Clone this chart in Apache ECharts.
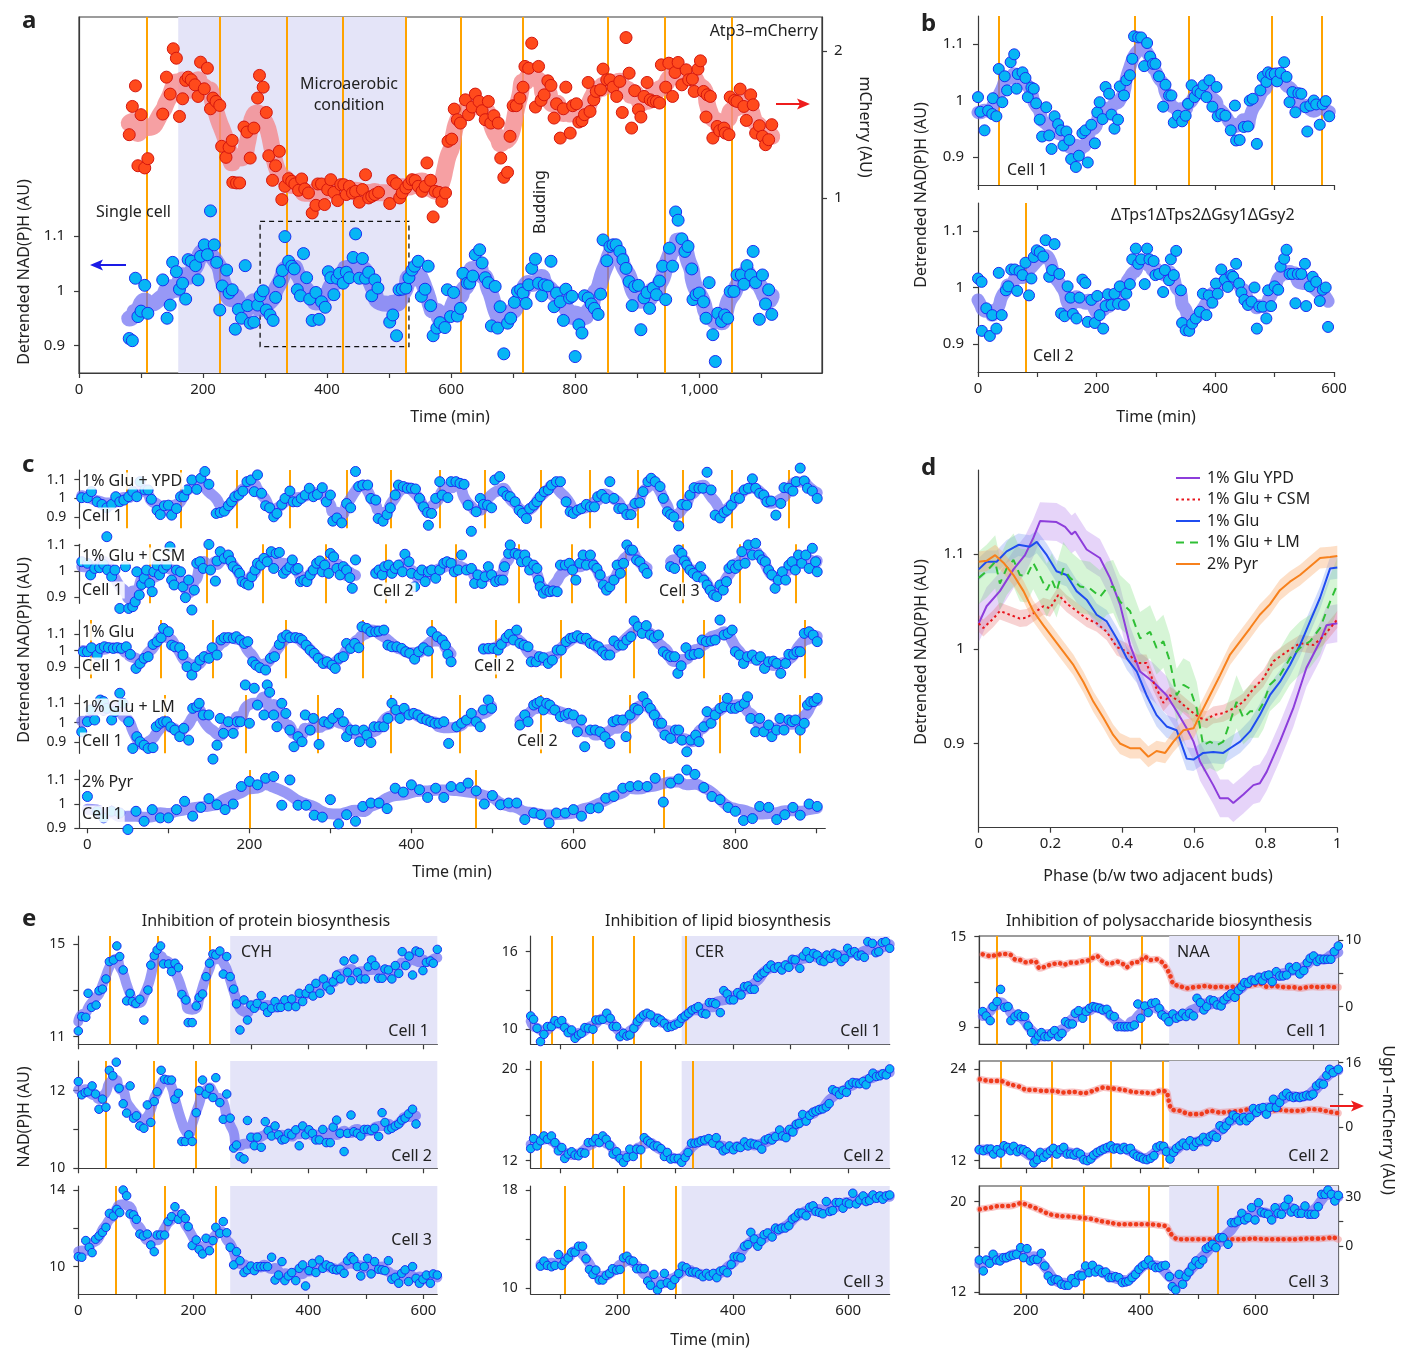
<!DOCTYPE html>
<html>
<head>
<meta charset="utf-8">
<title>NAD(P)H oscillations</title>
<script src="https://cdn.jsdelivr.net/npm/echarts@6.0.0/dist/echarts.min.js"></script>
<style>
  html, body { margin: 0; padding: 0; background: #fff; }
  #main { width: 1411px; height: 1349px; }
</style>
</head>
<body>
<div id="main"></div>
<script>
// ---------- data: [time (min), value] ----------
// panel a
var aBlue = [[81,.913],[86,.909],[91,1.023],[95,.953],[100,.963],[106,1.010],[111,.959],[135,1.020],[142,.950],[147,.974],[151,1.052],[157,1.035],[162,1.003],[167,1.014],[172,.985],[176,1.057],[181,1.054],[188,1.046],[192,1.020],[196,1.063],[202,1.084],[207,1.066],[212,1.146],[218,1.084],[222,1.052],[227,.965],[231,1.009],[238,1.038],[242,.996],[247,1.002],[252,.930],[257,.966],[262,.950],[268,1.046],[272,.973],[276,.941],[282,.943],[288,.974],[292,.991],[297,1.000],[302,.965],[308,.956],[313,.946],[317,.988],[323,1.017],[328,1.037],[332,1.099],[338,1.054],[343,1.045],[347,1.040],[352,1.002],[357,.991],[362,1.068],[367,1.024],[372,.985],[376,.946],[382,.997],[387,.948],[391,.980],[397,.970],[402,1.035],[406,1.024],[411,.993],[416,1.023],[420,1.032],[426,1.014],[431,1.034],[436,1.024],[442,1.061],[446,1.104],[452,1.023],[457,1.059],[462,1.023],[467,1.034],[472,.991],[477,1.020],[482,1.005],[501,.943],[506,.956],[512,.918],[516,1.002],[521,1.003],[527,1.005],[532,1.024],[537,1.038],[541,1.045],[547,1.054],[552,.990],[558,1.003],[563,1.045],[567,.973],[571,.918],[577,.932],[582,.942],[590,.933],[594,1.002],[599,.953],[604,.997],[610,.954],[615,.968],[619,1.032],[626,1.014],[630,1.014],[635,1.027],[639,1.066],[646,1.075],[650,1.051],[655,1.024],[660,1.015],[665,.936],[671,1.008],[675,.932],[679,.971],[685,.885],[691,.941],[696,.950],[702,.979],[707,.999],[712,1.002],[716,.996],[721,.977],[725,1.011],[730,1.041],[736,1.058],[741,1.014],[746,.991],[750,1.011],[756,1.009],[761,1.054],[766,.971],[770,.996],[776,.980],[781,.946],[785,1.003],[791,.987],[795,.990],[800,.880],[806,.938],[811,.923],[815,.991],[821,.987],[826,.976],[831,.968],[837,.957],[841,.994],[845,1.093],[851,1.055],[856,1.081],[861,1.084],[866,1.084],[872,1.072],[877,1.057],[882,1.041],[887,1.017],[892,.973],[896,1.008],[902,1.010],[906,.929],[911,.987],[916,.997],[920,.968],[926,1.005],[931,.993],[936,1.018],[941,1.045],[946,.984],[952,1.078],[957,1.045],[962,1.144],[966,1.129],[972,1.095],[977,1.072],[982,1.081],[988,1.040],[990,.984],[995,.993],[1000,.996],[1007,.980],[1011,.950],[1016,1.015],[1022,.920],[1026,.871],[1030,.959],[1036,.944],[1041,.956],[1046,.950],[1050,.999],[1056,.999],[1061,1.029],[1068,1.029],[1072,1.012],[1077,1.046],[1083,1.029],[1087,1.072],[1091,1.015],[1097,.948],[1102,1.029],[1107,.976],[1112,1.002],[1117,.957]];
var aRed = [[81,1.430],[86,1.622],[91,1.762],[95,1.219],[100,1.566],[106,1.204],[111,1.267],[135,1.570],[141,1.821],[147,1.706],[152,2.014],[157,1.950],[162,1.554],[167,1.674],[172,1.799],[176,1.821],[181,1.803],[187,1.769],[192,1.690],[196,1.923],[202,1.742],[207,1.882],[212,1.606],[216,1.679],[221,1.656],[227,1.629],[230,1.351],[237,1.276],[242,1.344],[247,1.391],[248,1.106],[254,1.102],[259,1.102],[266,1.482],[271,1.448],[276,1.271],[282,1.475],[288,1.679],[291,1.833],[297,1.753],[302,1.581],[306,1.287],[312,1.120],[317,1.219],[323,1.317],[327,.989],[332,1.079],[338,1.131],[343,1.113],[348,1.095],[354,1.052],[359,1.129],[364,1.061],[370,1.034],[376,.898],[382,.950],[385,1.095],[391,1.095],[396,.955],[401,1.057],[406,1.124],[411,1.038],[417,.982],[422,1.090],[427,1.090],[431,1.023],[436,1.079],[441,1.034],[446,1.045],[452,.971],[457,1.057],[462,1.158],[467,1.000],[472,1.011],[477,1.023],[483,1.038],[501,.962],[506,1.118],[512,1.097],[517,1.000],[521,1.034],[527,1.068],[532,1.095],[537,1.124],[542,1.118],[547,1.079],[553,1.045],[558,1.079],[561,1.238],[567,1.120],[571,.871],[574,1.045],[580,1.038],[585,.977],[591,1.034],[595,1.385],[601,1.400],[605,1.604],[610,1.532],[615,1.509],[623,1.667],[628,1.566],[634,1.618],[639,1.706],[645,1.656],[650,1.593],[655,1.532],[660,1.656],[664,1.509],[669,1.559],[676,1.509],[680,1.271],[685,1.140],[691,1.174],[695,1.419],[700,1.627],[705,1.627],[711,1.679],[716,1.753],[719,1.894],[725,1.882],[730,2.052],[736,1.618],[741,1.894],[745,1.663],[750,1.701],[756,1.796],[761,1.765],[766,1.543],[770,1.640],[776,1.407],[781,1.606],[785,1.753],[792,1.441],[796,1.627],[802,1.640],[806,1.516],[811,1.525],[815,1.566],[821,1.785],[824,1.588],[830,1.667],[834,1.724],[841,1.735],[845,1.876],[851,1.803],[856,1.803],[861,1.753],[867,1.690],[872,1.792],[876,1.581],[882,2.090],[887,1.848],[891,1.475],[896,1.729],[902,1.600],[906,1.550],[911,1.690],[916,1.785],[921,1.667],[926,1.656],[931,1.656],[936,1.645],[939,1.905],[946,1.753],[951,1.916],[957,1.690],[961,1.853],[966,1.921],[972,1.769],[979,1.871],[983,1.803],[989,1.808],[992,1.724],[998,1.876],[1002,1.932],[1007,1.724],[1011,1.550],[1013,1.701],[1018,1.690],[1022,1.407],[1029,1.486],[1033,1.457],[1040,1.475],[1042,1.441],[1048,1.430],[1050,1.686],[1057,1.663],[1061,1.656],[1066,1.740],[1072,1.622],[1076,1.527],[1083,1.701],[1087,1.633],[1091,1.441],[1097,1.491],[1102,1.419],[1107,1.362],[1112,1.396],[1117,1.498]];
var aBuds = [110, 227, 335, 426, 527, 616, 716, 852, 945, 1052];
var aShade = [160, 527];
var aBox = [292, 1.127, 532, 0.898];
var aTicksX = [0, 100, 200, 300, 400, 500, 600, 700, 800, 900, 1000, 1100];
var aLabelsX = [0, 200, 400, 600, 800, 1000];
var aTicksY = [0.9, 1, 1.1];
var aTicksM = [1, 2];

// panel b
var bCell1 = [[0,1.006],[4,.980],[11,.947],[17,.982],[24,.976],[25,1.004],[31,.972],[35,1.056],[41,.997],[45,1.043],[49,1.018],[55,1.068],[61,1.082],[65,1.021],[67,1.047],[75,1.050],[80,1.040],[84,1.006],[90,1.023],[94,1.021],[98,.995],[104,.966],[108,.936],[115,.988],[120,.938],[124,.914],[129,.972],[135,.958],[140,.947],[144,.920],[149,.945],[154,.930],[157,.896],[165,.882],[170,.902],[176,.942],[181,.947],[185,.890],[191,.957],[197,.924],[201,.979],[205,.997],[210,.967],[215,1.024],[221,1.012],[225,.975],[230,.950],[236,.966],[239,1.025],[246,1.009],[250,1.036],[256,1.045],[260,1.074],[263,1.114],[270,1.112],[275,1.112],[280,1.061],[285,1.102],[290,1.078],[295,1.065],[299,1.065],[305,1.043],[312,.989],[316,1.028],[322,1.009],[326,1.009],[330,.961],[337,.973],[344,.963],[350,.973],[354,.994],[360,1.027],[365,1.006],[370,1.017],[375,1.013],[380,1.027],[385,1.006],[390,1.036],[395,.989],[402,1.024],[404,.972],[410,.976],[417,.973],[426,.947],[433,.991],[435,.929],[441,.930],[448,.953],[455,.954],[458,1.000],[463,1.003],[470,.923],[476,1.018],[480,1.042],[486,1.033],[489,1.050],[494,1.047],[500,1.047],[504,1.034],[510,1.049],[516,1.068],[520,1.042],[525,.997],[530,1.015],[535,.979],[540,1.013],[545,1.012],[552,.988],[555,.945],[560,.991],[566,1.000],[570,.993],[576,.957],[581,.993],[586,.999],[592,.972]];
var bCell2 = [[0,1.016],[6,1.010],[6.5,.923],[14,.963],[20,.914],[24,.951],[31,.927],[35,1.026],[40,.951],[47,.995],[51,1.002],[56,1.032],[62,1.032],[66,.994],[70,1.029],[75,1.022],[80,1.044],[86,.986],[90,1.016],[94,1.054],[99,1.066],[104,1.063],[110,1.055],[114,1.084],[120,1.019],[125,1.031],[129,1.077],[137,1.024],[140,.954],[146,.949],[151,1.002],[156,.982],[160,.953],[166,.945],[171,.982],[176,1.014],[181,1.008],[185,.939],[191,.978],[197,.937],[201,.985],[205,.951],[211,.927],[215,.967],[219,.988],[225,.969],[230,.989],[236,.971],[239,1.002],[246,.969],[250,.989],[256,1.006],[260,1.050],[266,1.069],[270,1.042],[275,1.050],[281,1.006],[285,1.069],[289,1.050],[296,1.047],[299,1.022],[305,1.024],[312,.992],[315,1.031],[322,1.013],[325,1.050],[330,1.022],[334,1.065],[342,.995],[344,.937],[350,.924],[356,.923],[361,.936],[367,.945],[374,.957],[379,.989],[385,.951],[389,.986],[395,.973],[401,1.007],[404,.989],[410,1.032],[416,1.014],[421,1.001],[427,1.022],[430,1.019],[435,1.042],[440,1.007],[444,.991],[449,.978],[455,.969],[461,.975],[466,1.000],[470,.927],[474,.966],[480,.966],[486,.945],[489,.995],[494,.967],[500,1.002],[506,.996],[510,1.037],[516,1.051],[520,1.067],[525,1.024],[530,1.024],[535,.972],[539,1.024],[545,1.024],[551,1.042],[553,.967],[559,1.002],[564,1.019],[570,1.010],[576,.976],[581,.996],[586,1.000],[590,.930]];
var bBuds1 = [35, 265, 354.5, 495.5, 580];
var bBuds2 = [80];
var bTicksX = [0, 100, 200, 300, 400, 500, 600];
var bLabelsX = [0, 200, 400, 600];
var bTicksY = [0.9, 1, 1.1];

// panel c
var cYPD = [[-7,1.004],[0,1.004],[5,1.036],[12,.982],[18,.968],[24,.950],[30,.968],[35,1.009],[40,.982],[45,.991],[51,1.009],[56,1.036],[61,1.009],[65,1.089],[71,1.045],[75,1.045],[79,.995],[86,.937],[90,.914],[95,.961],[100,.964],[104,.911],[110,.946],[115,1.009],[119,1.009],[123,1.045],[129,1.098],[135,1.048],[140,1.107],[145,1.143],[150,1.075],[159,.920],[164,.925],[169,.932],[174,.961],[178,.982],[182,1.009],[187,1.018],[192,1.039],[197,1.089],[202,1.098],[206,1.036],[210,1.125],[215,1.027],[220,.961],[225,.950],[230,.902],[234,.920],[240,.968],[244,1.000],[250,1.039],[254,.982],[259,.982],[264,1.000],[269,1.018],[274,1.054],[279,1.009],[284,1.021],[290,1.057],[295,.982],[300,1.018],[303,.879],[308,.896],[314,.870],[320,.973],[325,.950],[331,1.143],[335,1.063],[340,1.071],[346,1.071],[350,1.000],[356,.991],[359,.893],[365,.879],[370,.914],[374,.950],[380,1.018],[384,1.071],[390,1.063],[395,1.054],[400,1.054],[405,1.050],[410,1.000],[415,.955],[420,.925],[421,.857],[425,.920],[430,1.000],[435,1.089],[438,1.018],[445,1.004],[449,1.089],[455,1.089],[460,1.080],[465,1.075],[470,.964],[474,.825],[480,.929],[485,1.000],[489,.968],[494,.964],[499,.950],[503,1.098],[509,1.116],[513,1.036],[518,1.014],[522,1.009],[528,.982],[533,.937],[537,.920],[542,.893],[546,.946],[551,.964],[555,.982],[559,1.009],[564,1.036],[569,1.045],[573,1.071],[579,1.089],[584,1.089],[591,.982],[596,.929],[600,.920],[605,.937],[610,.946],[616,.968],[621,.955],[626,.955],[630,1.009],[635,1.021],[640,1.000],[645,1.089],[650,1.000],[656,.946],[661,.946],[666,.914],[671,.914],[676,.973],[682,.977],[686,1.036],[692,1.089],[696,1.107],[701,1.089],[707,1.063],[711,1.000],[716,.929],[720,.914],[724,.902],[730,.854],[734,.968],[740,.964],[744,1.018],[749,1.057],[755,1.054],[760,1.054],[765,1.139],[770,1.045],[775,.911],[781,.896],[786,.925],[790,.937],[795,.964],[800,1.004],[805,1.000],[811,1.045],[816,1.054],[821,1.104],[825,1.054],[830,1.027],[835,1.018],[839,.982],[844,.986],[850,.911],[856,.973],[860,1.057],[866,1.054],[871,1.039],[875,1.089],[880,1.161],[885,1.093],[889,1.054],[895,1.039],[901,1.000]];
var cCSM1 = [[-7,1.036],[0,1.030],[4,.985],[9,1.010],[15,1.013],[20,1.026],[24,1.133],[25,1.004],[30,.978],[34,1.004],[40,.855],[47,1.017],[51,.855],[56,.862],[59,.881],[61,.997],[64,.907],[67,.948],[70,.972],[73,1.004],[77,.952],[80,.920],[82,.997],[86,1.023],[89,.985],[94,1.010],[98,1.023],[102,1.094],[104,.965],[107,.946],[110,1.004],[115,.997],[118,.939],[121,.897],[125,.965],[129,.849],[132,.926],[135,1.030],[139,1.036],[143,1.010],[150,1.103],[152,1.004],[158,.961],[160,1.039],[164,1.075],[169,1.049],[174,1.062],[177,1.039],[180,1.017],[185,1.004],[188,.991],[191,.959],[195,.952],[199,.946],[203,.978],[207,1.004],[210,1.030],[214,1.023],[218,1.049],[222,1.036],[227,1.075],[230,1.010],[233,1.068],[237,1.072],[242,.991],[246,1.004],[250,1.017],[253,1.043],[257,1.004],[260,1.010],[263,.959],[267,.965],[271,.959],[275,.985],[279,1.004],[283,1.030],[287,1.039],[290,.997],[293,1.023],[298,.991],[300,1.068],[304,1.055],[308,1.010],[312,.985],[316,1.017],[320,1.004],[324,.974],[327,.933],[331,1.043]];
var cCSM2 = [[356,.991],[360,1.004],[364,.985],[367,1.017],[372,1.023],[376,.991],[380,1.010],[384,1.023],[389,.997],[392,1.065],[397,1.036],[400,.991],[404,.939],[409,.985],[413,1.004],[417,.959],[421,.997],[425,1.004],[430,.972],[435,1.004],[440,1.030],[444,1.036],[449,1.030],[453,.997],[458,1.004],[462,1.062],[468,1.004],[474,1.010],[478,.952],[482,.985],[487,.952],[491,.978],[495,1.017],[499,.985],[504,.959],[509,.965],[513,.965],[515,1.017],[520,1.068],[522,1.101],[528,1.068],[532,1.062],[536,1.036],[540,1.062],[543,1.036],[546,1.004],[551,1.023],[555,1.010],[557,.965],[559,.939],[563,.914],[567,.926],[571,.920],[575,.923],[580,.920],[584,1.023],[590,1.023],[595,1.030],[599,1.004],[603,.965],[608,1.030],[612,1.062],[616,1.023],[621,1.062],[625,1.023],[629,1.010],[633,.985],[637,.946],[641,.926],[645,.939],[650,.965],[654,1.023],[658,.991],[662,1.030],[666,1.101],[670,1.081],[673,1.081],[678,1.043],[682,1.036],[687,1.010],[691,.991]];
var cCSM3 = [[720,1.017],[725,1.010],[730,1.081],[734,1.068],[737,1.039],[740,1.023],[744,1.004],[748,.991],[753,.978],[757,1.017],[761,.965],[765,.946],[769,.926],[773,.907],[777,.901],[781,.946],[785,.926],[789,.959],[792,1.010],[796,1.023],[800,1.010],[804,1.023],[808,1.075],[812,1.030],[816,1.101],[821,1.062],[825,1.107],[829,1.062],[833,1.043],[837,1.036],[841,1.004],[845,.985],[849,.933],[853,.965],[858,.997],[862,.965],[866,1.023],[870,1.036],[874,1.004],[878,1.062],[882,1.030],[887,1.062],[891,1.010],[895,1.088],[899,1.036],[901,.997]];
var cGlu1 = [[-5,.994],[0,.994],[5,1.018],[12,.974],[16,1.014],[21,1.024],[26,1.018],[32,1.014],[37,1.018],[42,1.014],[48,1.024],[53,.978],[60,.893],[65,.923],[70,.954],[75,.964],[81,1.038],[86,1.055],[91,1.079],[94,1.135],[100,1.115],[104,1.034],[108,1.024],[114,1.018],[118,.974],[123,.903],[129,.853],[134,.903],[139,.943],[144,.964],[150,.954],[154,1.018],[160,.974],[165,1.065],[169,1.079],[174,1.079],[180,1.075],[184,1.085],[189,1.065],[194,1.044],[198,1.055],[204,.933],[208,.913],[213,.897],[220,.883],[226,.954],[231,.964],[237,1.038],[241,1.079],[246,1.095],[250,1.079],[257,1.079],[262,1.075],[265,1.065],[270,1.034],[275,1.004],[280,.984],[285,.954],[291,.923],[296,.933],[302,.913],[306,.893],[311,.954],[316,.964],[320,1.044],[325,1.014],[330,1.044],[335,1.018],[339,1.145],[345,1.135],[350,1.115],[356,1.115],[360,1.119],[366,1.125],[371,1.034],[376,1.024],[382,1.024],[388,1.014],[393,.994],[398,.984],[404,.949],[409,.994],[415,1.018],[421,.998],[425,1.115],[432,1.085],[438,1.065],[442,1.034],[445,.978],[449,.933]];
var cGlu2 = [[489,1.010],[495,1.014],[501,1.014],[507,1.004],[511,1.038],[517,1.079],[521,1.099],[526,1.065],[530,1.125],[534,1.044],[539,1.034],[544,1.024],[548,.933],[554,.933],[558,.964],[563,.958],[569,.923],[574,.943],[580,1.004],[585,1.004],[591,1.055],[596,1.075],[600,1.079],[605,1.091],[610,1.075],[616,1.075],[621,1.044],[626,1.034],[631,1.024],[636,.994],[640,.974],[645,.974],[650,1.059],[656,1.034],[661,1.034],[666,1.065],[671,1.085],[675,1.180],[680,1.145],[685,1.105],[690,1.152],[695,1.095],[700,1.079],[705,1.095],[711,.994],[716,.974],[720,.964],[725,.964],[729,.863],[733,.909],[739,1.018],[744,.974],[749,.978],[755,.984],[759,1.065],[764,1.055],[770,1.059],[775,1.065],[781,1.186],[786,1.095],[791,1.105],[796,1.125],[800,.994],[805,.974],[810,.923],[815,.964],[821,.974],[826,.943],[831,.964],[836,.893],[841,.933],[847,.937],[851,.923],[856,.863],[862,.923],[866,.978],[872,.978],[876,.994],[880,.994],[885,1.105],[891,1.115],[896,1.095],[901,1.055]];
var cLM1 = [[-7,.953],[0,1.005],[4,1.066],[9,1.014],[16,1.117],[20,1.109],[24,1.074],[30,1.014],[34,1.057],[40,1.152],[44,1.100],[51,1.005],[56,.867],[61,.928],[65,.902],[70,.884],[75,.867],[81,.871],[85,.979],[90,.997],[94,1.005],[98,1.005],[103,.979],[108,.962],[114,.928],[119,.971],[125,.910],[130,1.074],[135,1.083],[138,1.100],[143,1.040],[150,1.040],[155,.812],[160,.884],[164,1.022],[168,.945],[174,1.005],[180,.945],[185,1.005],[189,1.005],[195,1.195],[200,.997],[206,1.178],[210,1.091],[218,1.040],[222,1.195],[225,1.157],[230,1.040],[234,.979],[240,1.100],[245,1.048],[250,.962],[255,.876],[260,.928],[265,.902],[269,1.040],[275,.962],[279,1.022],[286,.888],[292,1.005],[298,.997],[303,1.022],[310,1.048],[316,1.005],[320,.928],[325,.962],[331,.962],[336,.902],[341,.962],[345,.936],[350,.898],[354,.979],[360,.979],[366,.979],[371,1.022],[376,1.100],[381,1.066],[386,1.022],[391,1.074],[397,1.040],[403,1.048],[408,1.040],[413,1.022],[419,1.014],[424,1.005],[429,.997],[434,.997],[440,1.005],[446,.893],[456,.979],[462,.997],[468,1.014],[474,1.048],[480,1.005],[485,.979],[489,1.066],[495,1.117],[499,1.074]];
var cLM2 = [[534,.988],[540,1.040],[544,1.005],[551,1.091],[555,1.100],[559,1.109],[563,1.066],[567,1.100],[571,1.091],[577,1.066],[584,1.031],[590,1.040],[594,1.048],[600,1.040],[605,.953],[610,1.014],[614,.876],[621,.962],[627,.962],[633,.953],[639,.928],[645,.893],[649,1.005],[654,1.014],[661,1.014],[665,.928],[670,1.040],[676,1.074],[680,1.066],[686,1.134],[691,1.100],[695,1.074],[700,1.040],[705,.997],[709,.997],[713,.936],[720,.919],[726,.962],[730,.962],[734,.910],[740,.850],[745,.910],[751,.936],[755,.902],[761,.979],[765,1.057],[770,.997],[775,1.040],[781,1.074],[786,1.083],[790,1.126],[795,1.074],[800,1.074],[805,1.083],[811,1.100],[815,1.134],[819,1.022],[825,.953],[830,1.022],[835,.953],[841,.988],[845,.928],[851,.962],[855,1.022],[860,.962],[866,1.014],[870,1.005],[874,1.014],[880,.962],[885,.997],[889,1.091],[893,1.109],[897,1.109],[901,1.126]];
var cPyr = [[0,1.031],[12,.970],[20,.943],[30,.970],[40,.963],[50,.895],[60,.970],[70,.929],[80,.977],[90,.943],[100,.943],[110,.977],[120,1.011],[130,.950],[140,.986],[150,1.022],[160,.997],[170,.977],[180,1.000],[190,1.072],[200,1.093],[210,1.079],[220,1.106],[230,1.113],[240,.995],[250,1.099],[260,.995],[270,.995],[280,.954],[290,.946],[300,1.018],[310,.918],[320,.956],[331,.929],[340,.990],[350,1.004],[360,1.004],[370,.981],[380,1.065],[390,1.049],[400,1.079],[410,1.059],[420,1.027],[430,1.065],[440,1.027],[449,1.072],[461,1.068],[470,1.086],[480,1.054],[490,1.000],[500,1.035],[510,.997],[520,1.004],[530,1.004],[540,.936],[551,.963],[560,.956],[570,.922],[579,.963],[590,.963],[600,.977],[610,.950],[621,.981],[631,.984],[640,1.024],[650,1.031],[661,1.065],[670,1.072],[680,1.075],[691,1.072],[701,1.106],[711,1.008],[720,1.086],[730,1.103],[740,1.140],[750,1.122],[761,1.068],[771,1.031],[781,1.018],[791,.986],[800,.970],[810,.932],[821,.940],[830,.990],[841,.986],[851,.936],[861,.956],[871,.986],[880,.954],[891,1.000],[901,.990]];
var cBudsYPD = [49, 115, 185, 250, 320, 375, 435, 490, 560, 620, 680, 735, 796, 866];
var cBudsCSM = [77, 147, 217, 294, 368, 455, 532, 598, 665, 735, 805, 875];
var cBudsGlu = [4, 90, 155, 245, 340, 425, 504, 585, 675, 761, 886];
var cBudsLM = [95, 195, 285, 375, 460, 560, 670, 781, 880];
var cBudsPyr = [200, 480, 711];
var cTicksX = [0, 100, 200, 300, 400, 500, 600, 700, 800, 900];
var cLabelsX = [0, 200, 400, 600, 800];
var cTicksY = [0.9, 1, 1.1];

// panel d: [phase, mean]
var dYPD = [[0,1.027],[0.022,1.045],[0.059,1.061],[0.097,1.084],[0.129,1.099],[0.152,1.117],[0.171,1.135],[0.217,1.134],[0.241,1.129],[0.259,1.121],[0.269,1.124],[0.301,1.105],[0.338,1.096],[0.366,1.075],[0.394,1.047],[0.422,1.004],[0.450,.976],[0.487,.965],[0.524,.951],[0.552,.934],[0.580,.916],[0.599,.902],[0.617,.881],[0.654,.856],[0.673,.842],[0.696,.842],[0.710,.837],[0.738,.846],[0.766,.856],[0.784,.858],[0.803,.870],[0.840,.902],[0.877,.937],[0.914,.980],[0.952,1.008],[0.970,1.025],[1,1.027]];
var dCSM = [[0,1.027],[0.013,1.022],[0.041,1.032],[0.059,1.040],[0.087,1.036],[0.115,1.032],[0.134,1.033],[0.162,1.040],[0.180,1.045],[0.199,1.043],[0.222,1.057],[0.245,1.048],[0.273,1.040],[0.301,1.032],[0.329,1.027],[0.357,1.018],[0.385,1.002],[0.413,.997],[0.441,.985],[0.468,.985],[0.487,.965],[0.515,.943],[0.533,.951],[0.561,.944],[0.589,.935],[0.617,.927],[0.636,.925],[0.654,.930],[0.682,.932],[0.710,.937],[0.738,.944],[0.766,.958],[0.794,.969],[0.822,.987],[0.859,.997],[0.896,1.006],[0.933,1.004],[0.961,1.013],[1,1.031]];
var dGlu = [[0,1.084],[0.022,1.092],[0.050,1.092],[0.078,1.103],[0.111,1.110],[0.143,1.108],[0.162,1.113],[0.190,1.099],[0.217,1.082],[0.245,1.078],[0.273,1.061],[0.301,1.052],[0.329,1.036],[0.357,1.029],[0.385,1.011],[0.413,.990],[0.441,.976],[0.468,.951],[0.496,.930],[0.524,.918],[0.552,.914],[0.580,.884],[0.599,.883],[0.626,.890],[0.654,.891],[0.682,.890],[0.701,.895],[0.729,.902],[0.757,.913],[0.784,.930],[0.812,.951],[0.840,.965],[0.868,.983],[0.896,1.004],[0.924,1.029],[0.952,1.054],[0.980,1.085],[1,1.086]];
var dLM = [[0,1.075],[0.022,1.082],[0.046,1.092],[0.059,1.069],[0.078,1.085],[0.097,1.094],[0.115,1.078],[0.134,1.077],[0.152,1.091],[0.171,1.077],[0.190,1.062],[0.204,1.073],[0.217,1.061],[0.236,1.085],[0.255,1.075],[0.283,1.066],[0.310,1.064],[0.338,1.055],[0.357,1.064],[0.375,1.066],[0.394,1.050],[0.422,1.040],[0.450,1.011],[0.478,1.018],[0.496,1.001],[0.515,1.008],[0.533,.987],[0.552,.951],[0.571,.962],[0.589,.958],[0.608,.937],[0.626,.898],[0.645,.902],[0.664,.898],[0.682,.902],[0.701,.923],[0.719,.944],[0.738,.927],[0.757,.934],[0.780,.934],[0.794,.943],[0.812,.962],[0.840,.972],[0.868,.990],[0.896,1.001],[0.924,1.008],[0.952,1.022],[0.980,1.050],[1,1.068]];
var dPyr = [[0,1.092],[0.022,1.093],[0.046,1.099],[0.069,1.091],[0.097,1.078],[0.125,1.061],[0.152,1.040],[0.180,1.025],[0.208,1.011],[0.236,.997],[0.264,.983],[0.292,.965],[0.320,.944],[0.348,.927],[0.375,.909],[0.394,.900],[0.422,.895],[0.450,.895],[0.473,.886],[0.496,.892],[0.520,.890],[0.543,.902],[0.571,.914],[0.599,.916],[0.617,.930],[0.645,.951],[0.673,.972],[0.701,.994],[0.729,1.008],[0.757,1.022],[0.784,1.036],[0.812,1.047],[0.840,1.062],[0.868,1.071],[0.896,1.078],[0.924,1.087],[0.952,1.096],[0.980,1.097],[1,1.098]];
var dNames = ['1% Glu YPD', '1% Glu + CSM', '1% Glu', '1% Glu + LM', '2% Pyr'];
var dSpread = [0.02, 0.009, 0.012, 0.028, 0.011];   // half-width of shaded error band
var dTicksX = [0, 0.2, 0.4, 0.6, 0.8, 1];
var dTicksY = [0.9, 1, 1.1];

// panel e: NAD(P)H per cell
var eProt1 = [[0,11.25],[6,11.87],[13,11.84],[17,12.88],[23,12.27],[31,12.37],[36,12.99],[42,13.06],[48,13.50],[54,14.25],[61,14.32],[67,14.93],[72,14.47],[78,13.89],[84,12.55],[90,12.88],[94,12.52],[100,12.44],[107,12.62],[114,11.72],[121,13.02],[126,14.10],[132,14.51],[137,14.75],[143,14.93],[148,14.15],[157,14.15],[162,13.82],[168,14.18],[174,13.99],[180,12.83],[187,12.59],[191,11.61],[198,11.61],[205,12.33],[210,12.70],[216,12.85],[222,13.60],[228,14.18],[234,14.58],[239,14.54],[246,14.71],[252,13.71],[258,14.47],[264,13.60],[270,13.06],[275,12.42],[281,11.29],[288,12.59],[294,11.72],[300,12.37],[306,12.23],[311,12.44],[318,12.78],[323,12.30],[329,12.05],[336,12.23],[342,12.52],[347,12.26],[352,12.27],[359,12.59],[365,12.30],[371,12.63],[378,12.30],[384,12.88],[390,12.52],[396,12.88],[402,13.09],[408,12.76],[413,13.31],[420,12.88],[426,13.50],[432,13.19],[438,13.02],[443,13.38],[449,13.67],[456,13.50],[462,14.28],[468,13.79],[474,13.43],[479,14.36],[485,13.79],[491,13.50],[499,13.50],[504,14.03],[510,14.32],[516,14.08],[522,13.53],[528,13.53],[533,13.93],[539,13.89],[545,13.50],[551,14.08],[557,13.74],[563,14.68],[569,14.08],[575,14.49],[581,13.67],[587,14.71],[593,14.65],[599,13.86],[605,14.22],[612,14.28],[617,14.18],[624,14.78]];
var eProt2 = [[0,12.23],[6,11.89],[12,11.95],[17,11.97],[24,12.12],[30,11.91],[36,11.52],[42,11.78],[48,11.57],[54,12.52],[60,12.38],[66,12.73],[71,12.06],[78,11.66],[84,11.42],[90,12.12],[96,11.29],[101,11.35],[107,11.09],[114,11.03],[120,11.63],[126,11.18],[132,11.72],[137,11.97],[144,12.52],[150,12.29],[156,12.27],[162,12.27],[168,11.78],[174,11.93],[180,10.69],[186,10.69],[192,10.86],[198,10.69],[205,11.43],[210,12.00],[216,12.27],[222,11.91],[228,12.06],[234,11.82],[239,12.33],[246,11.69],[252,11.26],[258,11.91],[264,11.29],[270,10.52],[275,10.60],[281,10.30],[288,10.24],[294,11.23],[300,10.80],[306,10.58],[311,10.80],[318,10.54],[325,11.20],[330,10.97],[336,10.83],[342,11.09],[348,10.86],[354,10.73],[359,10.75],[365,10.90],[371,10.86],[378,10.99],[384,10.58],[390,11.09],[395,10.86],[401,10.99],[407,10.90],[413,10.73],[419,10.73],[425,11.00],[431,10.66],[438,10.66],[443,11.06],[449,11.24],[455,10.90],[462,10.43],[468,10.90],[474,11.37],[479,10.94],[485,10.90],[491,10.83],[497,11.00],[503,11.00],[509,10.97],[515,11.03],[522,10.82],[528,11.43],[533,11.18],[539,10.99],[545,11.03],[551,11.09],[557,11.14],[562,11.24],[568,11.29],[574,11.40],[581,11.52],[587,11.14]];
var eProt3 = [[0,10.52],[6,10.49],[13,11.36],[19,11.01],[24,10.73],[30,11.43],[36,11.60],[42,11.79],[48,12.05],[54,12.78],[61,12.64],[67,12.99],[72,12.82],[78,14.00],[84,13.70],[90,12.75],[96,12.70],[101,12.47],[107,11.70],[113,11.60],[120,11.70],[126,11.13],[132,10.78],[137,11.65],[143,11.65],[150,11.65],[156,12.35],[162,12.61],[168,13.13],[174,12.47],[180,12.75],[186,12.52],[191,12.09],[198,11.10],[205,11.39],[210,10.90],[216,10.66],[222,11.48],[228,10.83],[234,11.36],[239,12.05],[246,11.74],[252,12.35],[258,11.77],[264,11.01],[270,10.09],[275,10.78],[281,10.31],[288,9.69],[294,9.83],[300,10.03],[306,9.79],[311,10.00],[317,10.00],[323,10.00],[329,10.00],[336,10.49],[342,9.30],[348,9.56],[354,10.26],[359,9.27],[365,9.51],[371,9.69],[378,9.27],[384,9.91],[390,10.09],[395,8.99],[401,9.79],[407,10.17],[413,9.69],[419,10.35],[425,9.91],[431,10.09],[438,10.00],[443,9.86],[449,9.83],[455,9.86],[462,9.65],[468,10.31],[474,10.52],[479,10.35],[485,10.00],[491,9.51],[497,10.00],[503,10.43],[509,9.62],[515,10.26],[522,9.86],[528,9.83],[533,9.79],[539,10.31],[545,9.34],[551,9.44],[557,9.13],[562,9.65],[568,9.83],[574,9.22],[581,10.00],[587,9.39],[593,9.13],[599,9.34],[605,9.56],[612,9.13],[617,9.62],[624,9.56]];
var eLip1 = [[49,11.03],[54,10.77],[60,10.08],[66,9.05],[72,9.61],[78,10.21],[85,10.21],[91,10.67],[97,10.46],[103,10.67],[108,10.13],[114,9.74],[120,9.95],[126,9.30],[132,9.56],[137,9.69],[143,10.13],[149,10.08],[157,10.00],[162,10.72],[168,10.72],[174,10.77],[181,11.24],[187,10.85],[192,10.21],[198,10.21],[204,9.43],[210,9.69],[216,9.48],[221,9.56],[228,10.08],[234,10.59],[239,10.85],[245,11.11],[251,11.24],[257,11.11],[264,10.51],[270,10.85],[275,10.72],[281,10.46],[287,10.15],[293,10.21],[299,10.33],[306,10.46],[311,10.85],[317,11.03],[323,11.24],[329,11.49],[335,11.62],[340,11.75],[347,11.24],[353,11.18],[359,12.06],[365,12.06],[370,11.96],[378,11.29],[384,12.99],[390,12.73],[395,12.27],[401,12.27],[408,12.83],[414,12.65],[420,13.30],[426,13.35],[431,13.09],[437,13.09],[443,14.02],[449,14.27],[454,14.38],[460,14.71],[466,14.97],[472,14.71],[479,14.84],[485,14.58],[491,14.97],[497,14.79],[503,15.41],[508,15.36],[516,14.71],[522,15.67],[528,16.00],[533,15.48],[540,15.87],[546,15.74],[552,15.30],[558,15.23],[563,15.74],[569,15.48],[575,15.87],[581,15.74],[588,15.23],[594,15.48],[599,16.26],[605,15.92],[611,16.00],[617,15.67],[623,15.74],[628,15.56],[634,16.77],[642,16.64],[648,15.92],[653,16.00],[659,16.70],[665,16.77],[672,16.26]];
var eLip2 = [[49,13.06],[54,13.93],[60,13.29],[66,13.73],[72,14.16],[78,13.87],[85,14.16],[91,13.58],[97,12.86],[103,13.15],[108,12.20],[114,12.58],[120,12.78],[126,12.49],[132,12.43],[137,12.72],[143,12.66],[149,13.58],[157,13.64],[162,13.93],[168,13.58],[174,14.16],[180,13.87],[186,13.35],[192,12.58],[198,12.78],[204,12.20],[210,11.86],[216,12.29],[221,13.01],[227,12.37],[233,13.01],[240,12.95],[246,14.01],[252,13.73],[257,13.53],[263,13.29],[269,13.29],[275,13.06],[281,12.37],[286,12.72],[292,12.14],[298,12.20],[305,12.20],[311,11.86],[317,12.29],[322,12.72],[328,13.53],[334,13.53],[340,13.58],[345,13.73],[351,13.81],[358,13.93],[365,13.53],[371,14.01],[377,13.29],[383,12.86],[388,13.01],[394,13.29],[401,12.95],[407,13.24],[413,13.15],[420,13.64],[426,13.29],[431,13.53],[437,13.44],[443,13.35],[450,13.01],[456,13.81],[462,13.93],[468,13.81],[474,14.10],[481,14.68],[486,14.16],[492,14.01],[498,14.73],[504,14.50],[510,15.17],[515,15.25],[521,16.03],[527,15.45],[533,15.94],[539,16.23],[544,16.32],[550,16.46],[556,16.52],[562,16.69],[567,16.98],[573,18.19],[579,18.04],[585,17.76],[591,18.13],[597,17.96],[602,18.62],[608,18.82],[614,18.76],[620,18.71],[626,18.91],[631,18.62],[637,19.19],[643,19.63],[649,19.34],[655,19.40],[660,19.57],[666,19.48],[672,20.00]];
var eLip3 = [[66,11.78],[72,12.19],[78,11.84],[85,11.73],[91,11.84],[97,12.73],[103,11.84],[108,12.19],[114,12.46],[120,12.92],[126,12.92],[132,13.41],[139,13.41],[145,12.38],[151,11.51],[157,11.11],[162,11.46],[168,10.65],[174,10.65],[180,11.03],[186,11.19],[191,11.57],[198,11.46],[204,11.51],[210,12.46],[216,12.59],[221,12.27],[227,12.19],[233,11.57],[240,11.57],[246,11.57],[252,10.57],[257,10.22],[263,11.11],[269,9.84],[275,10.30],[281,11.19],[286,10.43],[293,10.22],[299,10.70],[306,11.19],[312,11.78],[319,11.65],[325,11.30],[330,11.30],[336,11.30],[342,11.11],[348,10.92],[354,11.19],[359,10.97],[366,11.19],[372,10.84],[378,11.38],[384,11.46],[390,11.24],[397,11.92],[402,12.54],[408,12.54],[414,12.46],[420,13.41],[426,13.54],[431,14.54],[437,14.00],[443,13.41],[449,13.81],[454,14.35],[460,14.49],[468,14.16],[474,14.89],[479,14.76],[485,14.89],[491,14.89],[497,15.08],[503,15.62],[508,15.78],[514,16.11],[520,16.11],[527,15.89],[533,16.59],[539,16.70],[544,16.24],[550,16.16],[556,16.05],[562,17.05],[568,16.24],[573,16.32],[579,16.97],[585,16.97],[591,16.51],[597,16.97],[602,16.86],[608,17.73],[614,16.86],[620,17.19],[626,17.51],[631,17.05],[637,17.14],[643,17.59],[649,17.32],[655,17.51],[660,17.24],[666,17.51],[672,17.59]];
var ePoly1 = [[125,10.04],[131,9.75],[138,9.44],[143,10.37],[150,10.70],[156,11.51],[163,10.32],[169,10.37],[174,9.44],[181,9.71],[187,9.88],[192,9.71],[198,9.71],[204,9.09],[210,8.65],[216,8.12],[222,8.43],[227,8.65],[233,8.38],[239,8.38],[245,8.60],[250,8.78],[257,8.38],[263,8.60],[269,9.37],[275,9.22],[281,9.22],[286,9.93],[292,10.10],[299,9.60],[305,10.04],[311,10.26],[317,10.37],[322,10.32],[328,10.26],[334,10.15],[341,10.19],[347,9.82],[354,9.71],[360,9.04],[366,9.04],[372,9.04],[377,9.04],[383,9.04],[389,9.15],[395,10.54],[400,9.60],[407,10.41],[413,9.97],[419,10.59],[426,10.63],[432,10.26],[437,9.82],[443,9.66],[449,9.37],[456,9.88],[462,9.60],[468,9.71],[473,9.93],[479,9.71],[485,9.93],[492,9.75],[498,10.92],[504,10.63],[510,10.15],[515,10.37],[521,10.81],[527,10.76],[533,10.48],[540,10.41],[545,10.81],[551,11.03],[557,11.21],[564,10.98],[570,11.43],[576,11.69],[581,11.96],[587,11.91],[593,12.13],[599,12.09],[606,12.31],[612,12.09],[617,12.40],[623,12.46],[629,12.02],[636,12.68],[642,12.40],[648,12.40],[654,12.46],[659,12.97],[665,12.79],[671,13.01],[677,12.53],[684,12.75],[690,13.28],[695,13.57],[701,13.72],[707,13.35],[712,13.50],[719,13.50],[725,13.50],[731,13.50],[737,14.01],[744,14.38]];
var ePoly2 = [[119,13.44],[126,13.31],[133,13.53],[139,13.53],[144,12.87],[150,13.44],[156,13.00],[162,13.96],[168,13.75],[173,13.31],[179,13.88],[185,13.18],[191,13.53],[196,13.44],[202,13.18],[208,12.74],[214,11.70],[220,12.13],[225,13.09],[231,12.44],[237,12.87],[243,13.31],[248,13.62],[254,12.87],[260,13.44],[266,13.75],[272,12.87],[278,12.87],[284,12.74],[289,13.09],[295,12.87],[301,12.13],[307,12.00],[313,12.22],[318,12.74],[324,13.09],[330,13.31],[336,13.53],[342,13.75],[348,13.96],[353,13.53],[359,13.62],[365,13.44],[371,13.75],[376,13.44],[382,13.62],[388,12.87],[394,12.57],[400,12.44],[405,12.22],[411,12.13],[417,12.31],[423,12.66],[428,13.75],[434,13.96],[440,13.88],[445,13.18],[451,12.22],[457,13.09],[462,13.62],[468,13.96],[474,14.31],[480,13.96],[486,14.62],[492,13.88],[497,14.40],[503,14.62],[509,15.06],[515,14.49],[521,15.19],[526,15.36],[532,15.06],[538,16.58],[544,16.15],[549,16.58],[555,17.24],[561,17.98],[567,17.68],[573,17.24],[579,17.68],[584,17.24],[590,17.68],[596,18.85],[602,18.33],[607,18.85],[613,18.98],[619,18.11],[625,18.98],[631,20.07],[636,18.98],[642,19.63],[648,20.51],[654,20.86],[660,20.42],[666,20.29],[671,20.42],[677,20.29],[683,20.42],[689,20.60],[695,20.51],[700,20.73],[706,21.82],[712,22.17],[718,22.04],[724,23.21],[729,24.00],[735,23.56],[744,24.00]];
var ePoly3 = [[119,14.83],[126,13.86],[131,14.83],[137,14.54],[143,15.34],[149,14.83],[155,14.75],[161,15.04],[166,15.04],[172,15.19],[178,15.25],[184,15.34],[191,15.93],[196,15.04],[202,15.84],[208,14.75],[214,14.89],[220,14.89],[227,15.42],[233,14.30],[239,13.42],[245,12.97],[251,13.12],[256,13.06],[262,12.68],[268,12.59],[274,12.59],[280,13.18],[286,12.83],[292,13.48],[298,13.42],[304,14.30],[310,13.71],[316,14.36],[321,13.77],[327,14.01],[333,13.71],[339,13.77],[345,13.27],[350,13.27],[356,13.36],[362,13.27],[368,12.83],[374,12.89],[379,12.97],[385,13.27],[391,13.56],[397,14.01],[403,14.30],[408,14.45],[414,14.83],[420,14.36],[426,14.16],[432,14.16],[437,14.30],[443,14.36],[450,13.36],[455,12.47],[461,12.18],[467,13.56],[473,12.68],[479,13.36],[484,13.77],[490,14.30],[496,14.75],[502,14.45],[508,14.83],[514,15.84],[519,16.01],[525,16.22],[531,15.93],[537,16.81],[543,16.81],[552,16.22],[558,18.14],[564,18.14],[570,18.29],[576,18.97],[581,18.38],[587,18.58],[593,19.47],[599,18.38],[605,19.91],[610,19.08],[616,18.97],[622,18.88],[628,18.38],[634,19.47],[639,18.97],[645,18.88],[651,19.62],[657,20.21],[662,19.08],[668,19.38],[674,18.97],[680,18.97],[686,19.62],[692,18.88],[697,18.88],[703,18.88],[709,19.56],[715,20.65],[721,20.65],[726,21.03],[732,20.65],[738,20.06],[744,20.56]];
// panel e: Ugp1-mCherry (right axis)
var eUgp1 = [[125,7.85],[138,7.60],[149,7.75],[161,7.90],[172,7.85],[181,7.10],[190,7.00],[201,6.65],[216,6.85],[224,5.75],[236,6.10],[247,6.40],[259,6.50],[265,6.25],[277,6.60],[288,6.60],[300,6.85],[311,7.00],[323,7.60],[335,6.75],[346,6.40],[358,6.75],[369,6.40],[375,5.90],[387,6.65],[398,6.75],[407,7.50],[416,7.00],[428,7.10],[439,6.50],[445,5.75],[451,4.75],[457,3.40],[468,3.10],[480,2.75],[492,2.90],[503,3.00],[515,3.10],[526,2.90],[538,3.00],[549,2.90],[561,3.00],[573,3.10],[584,3.10],[596,3.25],[608,3.40],[619,3.00],[631,3.10],[642,3.00],[654,2.90],[666,2.90],[677,2.75],[689,2.90],[700,3.00],[712,2.90],[724,3.00],[735,2.90],[744,2.90]];
var eUgp2 = [[120,11.85],[138,11.44],[155,11.44],[172,10.61],[190,9.95],[201,9.20],[213,9.20],[230,8.95],[248,8.95],[265,8.54],[282,8.70],[300,8.37],[317,8.95],[335,9.78],[352,9.53],[370,9.20],[387,8.70],[404,8.54],[422,8.37],[433,8.95],[445,8.70],[448,6.88],[454,4.39],[468,3.98],[486,3.15],[503,3.15],[521,3.98],[538,3.56],[555,3.73],[573,3.98],[590,4.39],[608,3.98],[625,3.98],[642,4.23],[660,3.98],[677,3.98],[695,4.39],[712,4.23],[729,3.73],[744,3.40]];
var eUgp3 = [[120,22.45],[138,23.47],[155,24.49],[172,24.49],[191,26.12],[207,24.49],[224,22.04],[242,19.39],[259,18.37],[277,17.96],[294,17.35],[311,16.73],[329,15.31],[346,14.29],[364,13.27],[381,13.27],[399,13.27],[416,13.27],[433,12.65],[445,11.84],[451,8.16],[462,4.49],[480,4.08],[503,4.08],[526,4.08],[549,4.08],[573,4.08],[596,4.49],[619,4.08],[642,4.08],[666,4.08],[689,4.49],[712,4.49],[735,5.10],[744,4.08]];
var eBuds = {
  prot1: [54, 138, 228], prot2: [48, 132, 204], prot3: [65.5, 149.5, 239],
  lip1: [85, 157, 228, 318], lip2: [66, 157, 240, 330], lip3: [108, 210, 300],
  poly1: [149, 311.5, 402, 570], poly2: [156, 245, 347.5, 438], poly3: [190.6, 300, 413.6, 533.8]
};
var eDrugStart = [264, 311, 449.6];   // CYH, CER, NAA added (min)

// ---------- styling ----------
var FONT = '"Noto Sans", "DejaVu Sans", sans-serif';
var INK = '#222';
var AX = '#3a3a3a';
var SHADE = '#e4e4f8';
var ORANGE = '#ffa300';
var DOT = '#07b5f5', DOTLINE = '#1d2ef2';
var BAND = 'rgba(108,108,242,0.7)';
var RED = '#ff4a1c', REDLINE = '#d4160e', REDBAND = 'rgba(244,136,140,0.8)';

var grids = [], xAxes = [], yAxes = [], series = [], graphics = [];

function addGrid(l, t, w, h, box) {
  grids.push({ left: l, top: t, width: w, height: h, show: !!box, borderColor: AX, borderWidth: 1.2,
    backgroundColor: 'rgba(0,0,0,0)', containLabel: false, outerBoundsMode: 'none' });
  return grids.length - 1;
}
function axis(g, min, max, o) {
  o = o || {};
  return {
    type: 'value', gridIndex: g, min: min, max: max, position: o.pos, silent: true,
    axisLine: { show: o.line !== false, onZero: false, lineStyle: { color: AX, width: 1.2 } },
    axisTick: { show: !!o.ticks, length: 5, customValues: o.ticks, lineStyle: { color: AX, width: 1.2 } },
    axisLabel: { show: !!o.labels, customValues: o.labels, formatter: o.fmt || function (v) { return String(v); },
      color: INK, fontSize: o.fs || 15, fontFamily: FONT, margin: o.margin || 10 },
    splitLine: { show: false }
  };
}
function addX(g, min, max, o) { xAxes.push(axis(g, min, max, o)); return xAxes.length - 1; }
function addY(g, min, max, o) { yAxes.push(axis(g, min, max, o)); return yAxes.length - 1; }

function movAvg(pts, k) {
  var s = pts.slice().sort(function (a, b) { return a[0] - b[0]; });
  return s.map(function (p, i) {
    var sum = 0, n = 0;
    for (var j = Math.max(0, i - k); j <= Math.min(s.length - 1, i + k); j++) { sum += s[j][1]; n++; }
    return [p[0], sum / n];
  });
}
function dots(xi, yi, pts, size, fill, stroke) {
  series.push({ type: 'scatter', xAxisIndex: xi, yAxisIndex: yi, data: pts, symbolSize: size, clip: false, silent: true, z: 4,
    itemStyle: { color: fill, borderColor: stroke, borderWidth: 1, opacity: 1 } });
}
function trend(xi, yi, pts, k, width, color) {
  series.push({ type: 'line', xAxisIndex: xi, yAxisIndex: yi, data: movAvg(pts, k), smooth: 0.6, showSymbol: false, symbol: 'none',
    clip: false, silent: true, z: 3, lineStyle: { color: color, width: width, cap: 'round', join: 'round' } });
}
function marks(xi, yi, x0, y0, buds, areas) {
  series.push({ type: 'line', xAxisIndex: xi, yAxisIndex: yi, data: [[x0, y0]], showSymbol: false, symbol: 'none', silent: true, z: 1,
    lineStyle: { width: 0 },
    markArea: { silent: true, z: 1, label: { show: false }, itemStyle: { color: SHADE }, data: areas || [] },
    markLine: { silent: true, z: 2, symbol: 'none', label: { show: false }, animation: false,
      lineStyle: { color: ORANGE, width: 2, type: 'solid', opacity: 1 },
      emphasis: { disabled: true },
      data: buds.map(function (t) { return { xAxis: t }; }) } });
}
function txt(x, y, s, o) {
  o = o || {};
  var st = { text: s, fill: o.color || INK, font: (o.bold ? 'bold ' : '') + (o.fs || 16) + 'px ' + FONT,
    align: o.align || 'left', verticalAlign: 'middle' };
  if (o.bg) { st.backgroundColor = o.bg; st.padding = [1, 2, 0, 2]; }
  graphics.push({ type: 'text', x: x, y: y, rotation: o.rot || 0, z: 100, silent: true, style: st });
}
function arrow(x1, x2, y, color) {
  var d = x2 > x1 ? 1 : -1;
  graphics.push({ type: 'line', z: 100, silent: true, shape: { x1: x1, y1: y, x2: x2 - d * 8, y2: y }, style: { stroke: color, lineWidth: 2 } });
  graphics.push({ type: 'polygon', z: 100, silent: true, shape: { points: [[x2, y], [x2 - d * 13, y - 5.5], [x2 - d * 10, y], [x2 - d * 13, y + 5.5]] }, style: { fill: color } });
}

// ---------- panel a ----------
var gA = addGrid(79, 17, 743, 356, true);
var xA = addX(gA, 0, 1198, { ticks: aTicksX, labels: aLabelsX, margin: 9,
  fmt: function (v) { return v >= 1000 ? '1,000' : String(v); } });
var yAL = addY(gA, 0.85, 1.5, { pos: 'left', ticks: aTicksY, labels: aTicksY, margin: 14 });
var yAR = addY(gA, -0.19, 2.23, { pos: 'right', ticks: aTicksM, labels: aTicksM, margin: 12 });
marks(xA, yAL, 0, 0.85, aBuds, [
  [{ xAxis: aShade[0] }, { xAxis: aShade[1] }],
  [{ xAxis: aBox[0], yAxis: aBox[1], itemStyle: { color: 'rgba(0,0,0,0)', borderColor: '#111', borderWidth: 1.3, borderType: [5, 4] } },
   { xAxis: aBox[2], yAxis: aBox[3] }]
]);
trend(xA, yAR, aRed, 3, 17, REDBAND);
dots(xA, yAR, aRed, 12, RED, REDLINE);
trend(xA, yAL, aBlue, 3, 16, BAND);
dots(xA, yAL, aBlue, 12, DOT, DOTLINE);

// ---------- panel b ----------
var gB1 = addGrid(978, 16, 356, 169);
var xB1 = addX(gB1, 0, 600, { ticks: bTicksX });
var yB1 = addY(gB1, 0.85, 1.15, { ticks: bTicksY, labels: bTicksY, margin: 14 });
marks(xB1, yB1, 0, 0.85, bBuds1);
trend(xB1, yB1, bCell1, 3, 13, BAND);
dots(xB1, yB1, bCell1, 11, DOT, DOTLINE);
var gB2 = addGrid(978, 203, 356, 169);
var xB2 = addX(gB2, 0, 600, { ticks: bTicksX, labels: bLabelsX, margin: 9 });
var yB2 = addY(gB2, 0.85, 1.15, { ticks: bTicksY, labels: bTicksY, margin: 14 });
marks(xB2, yB2, 0, 0.85, bBuds2);
trend(xB2, yB2, bCell2, 3, 13, BAND);
dots(xB2, yB2, bCell2, 11, DOT, DOTLINE);

// ---------- panel c ----------
var cRows = [
  { top: 470, h: 58.3, min: 0.841, max: 1.151, cells: [cYPD], buds: cBudsYPD },
  { top: 544.3, h: 59, min: 0.875, max: 1.1035, cells: [cCSM1, cCSM2, cCSM3], buds: cBudsCSM },
  { top: 620, h: 58.3, min: 0.833, max: 1.186, cells: [cGlu1, cGlu2], buds: cBudsGlu },
  { top: 695, h: 58.3, min: 0.842, max: 1.143, cells: [cLM1, cLM2], buds: cBudsLM },
  { top: 770, h: 58.3, min: 0.9, max: 1.14, cells: [cPyr], buds: cBudsPyr, last: true }
];
cRows.forEach(function (r) {
  var g = addGrid(79.3, r.top, 746, r.h);
  var xi = r.last ? addX(g, -10, 911, { ticks: cTicksX, labels: cLabelsX, margin: 9 })
                  : addX(g, -10, 911, { line: false });
  var yi = addY(g, r.min, r.max, { ticks: cTicksY, labels: cTicksY, fs: 14, margin: 13 });
  marks(xi, yi, 0, r.min, r.buds);
  r.cells.forEach(function (c) {
    trend(xi, yi, c, r.last ? 3 : 2, 11, BAND);
    dots(xi, yi, c, 10, DOT, DOTLINE);
  });
});

// ---------- panel d ----------
var gD = addGrid(978.7, 470, 358.6, 357.7);
var xD = addX(gD, 0, 1, { ticks: dTicksX, labels: dTicksX, margin: 9 });
var yD = addY(gD, 0.811, 1.189, { ticks: dTicksY, labels: dTicksY, margin: 14 });
var dCurves = [dYPD, dCSM, dGlu, dLM, dPyr];
var dLine = ['#8d3ddb', '#e8141c', '#1f4cf0', '#2fbf35', '#f7811c'];
var dFill = ['rgba(172,112,236,0.30)', 'rgba(226,92,92,0.28)', 'rgba(92,132,240,0.28)', 'rgba(120,222,120,0.30)', 'rgba(250,166,100,0.36)'];
var dDash = ['solid', [2.5, 3], 'solid', [8, 6], 'solid'];
dCurves.forEach(function (pts, i) {
  var hw = dSpread[i];
  series.push({ type: 'custom', xAxisIndex: xD, yAxisIndex: yD, data: [[0.5, 1]], silent: true, clip: false, z: 1,
    renderItem: function (params, api) {
      var up = pts.map(function (p) { return api.coord([p[0], p[1] + hw]); });
      var dn = pts.slice().reverse().map(function (p) { return api.coord([p[0], p[1] - hw]); });
      return { type: 'polygon', shape: { points: up.concat(dn) }, style: { fill: dFill[i] } };
    } });
});
dCurves.forEach(function (pts, i) {
  series.push({ type: 'line', name: dNames[i], xAxisIndex: xD, yAxisIndex: yD, data: pts, symbol: 'none', showSymbol: false,
    silent: true, z: 3, color: dLine[i], lineStyle: { color: dLine[i], width: 2, type: dDash[i] } });
});
// legend, drawn by hand so the keys are plain line samples
var legY = [478, 499.5, 521, 542.5, 564];
dNames.forEach(function (n, i) {
  graphics.push({ type: 'line', z: 100, silent: true, shape: { x1: 1176, y1: legY[i], x2: 1200, y2: legY[i] },
    style: { stroke: dLine[i], lineWidth: 2, lineDash: dDash[i] === 'solid' ? null : dDash[i] } });
  txt(1207, legY[i], n);
});

// ---------- panel e ----------
var eCols = [
  { left: 78.3, min: 0, max: 624, ticks: [0, 100, 200, 300, 400, 500, 600], labels: [0, 200, 400, 600], box: false },
  { left: 530.7, min: 49, max: 672, ticks: [100, 200, 300, 400, 500, 600], labels: [200, 400, 600], box: false },
  { left: 979.3, min: 119, max: 744, ticks: [200, 300, 400, 500, 600, 700], labels: [200, 400, 600], box: true }
];
var eRows = [{ top: 936, h: 108.3 }, { top: 1061, h: 107.3 }, { top: 1186, h: 108 }];
var eCells = [
  { c: 0, r: 0, pts: eProt1, y: [10.67, 15.36], t: [11, 13, 15], l: [11, 15], buds: eBuds.prot1 },
  { c: 0, r: 1, pts: eProt2, y: [10, 12.76], t: [10, 11, 12], l: [10, 12], buds: eBuds.prot2 },
  { c: 0, r: 2, pts: eProt3, y: [8.57, 14.21], t: [10, 12, 14], l: [10, 14], buds: eBuds.prot3 },
  { c: 1, r: 0, pts: eLip1, y: [8.84, 17.21], t: [10, 13, 16], l: [10, 16], buds: eBuds.lip1 },
  { c: 1, r: 1, pts: eLip2, y: [11.34, 20.69], t: [12, 16, 20], l: [12, 20], buds: eBuds.lip2 },
  { c: 1, r: 2, pts: eLip3, y: [9.51, 18.32], t: [10, 14, 18], l: [10, 18], buds: eBuds.lip3 },
  { c: 2, r: 0, pts: ePoly1, y: [7.875, 15.04], t: [9, 12, 15], l: [9, 15], buds: eBuds.poly1, ugp: eUgp1, yr: [-5.65, 10.6], tr: [0, 5, 10], lr: [0, 10] },
  { c: 2, r: 1, pts: ePoly2, y: [11.0, 25.09], t: [12, 18, 24], l: [12, 24], buds: eBuds.poly2, ugp: eUgp2, yr: [-10.36, 16.41], tr: [0, 8, 16], lr: [0, 16] },
  { c: 2, r: 2, pts: ePoly3, y: [11.82, 21.39], t: [12, 16, 20], l: [12, 20], buds: eBuds.poly3, ugp: eUgp3, yr: [-29.4, 36.7], tr: [0, 15, 30], lr: [0, 30] }
];
eCells.forEach(function (e) {
  var col = eCols[e.c], row = eRows[e.r];
  var g = addGrid(col.left, row.top, 359, row.h, col.box);
  var xi = addX(g, col.min, col.max, { ticks: col.ticks, labels: e.r === 2 ? col.labels : null, margin: 9 });
  var yi = addY(g, e.y[0], e.y[1], { pos: 'left', ticks: e.t, labels: e.l, fs: 14, margin: 13 });
  marks(xi, yi, col.min, e.y[0], e.buds, [[{ xAxis: eDrugStart[e.c] }, { xAxis: col.max }]]);
  if (e.ugp) {
    var yr = addY(g, e.yr[0], e.yr[1], { pos: 'right', ticks: e.tr, labels: e.lr, fs: 14, margin: 7 });
    series.push({ type: 'line', xAxisIndex: xi, yAxisIndex: yr, data: e.ugp, smooth: 0.3, symbol: 'none', showSymbol: false,
      silent: true, z: 3, lineStyle: { color: 'rgba(240,120,120,0.45)', width: 7, cap: 'round' } });
    series.push({ type: 'line', xAxisIndex: xi, yAxisIndex: yr, data: e.ugp, smooth: 0.3, symbol: 'none', showSymbol: false,
      silent: true, z: 4, lineStyle: { color: '#ef3b1c', width: 4.6, type: [0.1, 5.6], cap: 'round' } });
  }
  trend(xi, yi, e.pts, 2, 10, BAND);
  dots(xi, yi, e.pts, 8.5, DOT, DOTLINE);
});

// ---------- text ----------
txt(22, 21, 'a', { bold: true, fs: 24 });
txt(921, 24, 'b', { bold: true, fs: 24 });
txt(22, 465, 'c', { bold: true, fs: 24 });
txt(921, 468, 'd', { bold: true, fs: 24 });
txt(22, 919, 'e', { bold: true, fs: 24 });

txt(450, 417, 'Time (min)', { align: 'center' });
txt(24, 272, 'Detrended NAD(P)H (AU)', { align: 'center', rot: Math.PI / 2 });
txt(865, 127, 'mCherry (AU)', { align: 'center', rot: -Math.PI / 2 });
txt(818, 31, 'Atp3–mCherry', { align: 'right' });
txt(349, 84, 'Microaerobic', { align: 'center' });
txt(349, 105, 'condition', { align: 'center' });
txt(96, 212, 'Single cell');
txt(540, 202, 'Budding', { align: 'center', rot: Math.PI / 2 });
arrow(776, 810, 104, '#ee1c1c');
arrow(126, 90, 265, '#1a1ae6');

txt(1156, 417, 'Time (min)', { align: 'center' });
txt(921, 195, 'Detrended NAD(P)H (AU)', { align: 'center', rot: Math.PI / 2 });
txt(1007, 170, 'Cell 1');
txt(1033, 356, 'Cell 2');
txt(1111, 215, 'ΔTps1ΔTps2ΔGsy1ΔGsy2');

var BG = 'rgba(255,255,255,0.86)';
txt(452, 872, 'Time (min)', { align: 'center' });
txt(24, 650, 'Detrended NAD(P)H (AU)', { align: 'center', rot: Math.PI / 2 });
txt(80, 481, '1% Glu + YPD', { bg: BG });
txt(80, 516, 'Cell 1', { bg: BG });
txt(80, 556, '1% Glu + CSM', { bg: BG });
txt(80, 590, 'Cell 1', { bg: BG });
txt(371, 591, 'Cell 2', { bg: BG });
txt(657, 591, 'Cell 3', { bg: BG });
txt(80, 632, '1% Glu', { bg: BG });
txt(80, 666, 'Cell 1', { bg: BG });
txt(472, 666, 'Cell 2', { bg: BG });
txt(80, 707, '1% Glu + LM', { bg: BG });
txt(80, 741, 'Cell 1', { bg: BG });
txt(515, 741, 'Cell 2', { bg: BG });
txt(80, 782, '2% Pyr', { bg: BG });
txt(80, 814, 'Cell 1', { bg: BG });

txt(1158, 876, 'Phase (b/w two adjacent buds)', { align: 'center' });
txt(921, 652, 'Detrended NAD(P)H (AU)', { align: 'center', rot: Math.PI / 2 });

txt(266, 921, 'Inhibition of protein biosynthesis', { align: 'center' });
txt(718, 921, 'Inhibition of lipid biosynthesis', { align: 'center' });
txt(1159, 921, 'Inhibition of polysaccharide biosynthesis', { align: 'center' });
txt(710, 1340, 'Time (min)', { align: 'center' });
txt(24, 1117, 'NAD(P)H (AU)', { align: 'center', rot: Math.PI / 2 });
txt(1388, 1120, 'Ugp1–mCherry (AU)', { align: 'center', rot: -Math.PI / 2 });
txt(241, 952, 'CYH');
txt(695, 952, 'CER');
txt(1177, 952, 'NAA');
[[429, 1031, 'Cell 1'], [432, 1156, 'Cell 2'], [432, 1240, 'Cell 3'],
 [881, 1031, 'Cell 1'], [884, 1156, 'Cell 2'], [884, 1282, 'Cell 3'],
 [1327, 1031, 'Cell 1'], [1329, 1156, 'Cell 2'], [1329, 1282, 'Cell 3']].forEach(function (c) {
  txt(c[0], c[1], c[2], { align: 'right' });
});
arrow(1330, 1364, 1106, '#ee1c1c');

// ---------- render ----------
var chart = echarts.init(document.getElementById('main'), null, { renderer: 'canvas' });
chart.setOption({
  animation: false,
  backgroundColor: '#ffffff',
  textStyle: { fontFamily: FONT },
  grid: grids,
  xAxis: xAxes,
  yAxis: yAxes,
  graphic: { elements: graphics },
  series: series
});
</script>
</body>
</html>
